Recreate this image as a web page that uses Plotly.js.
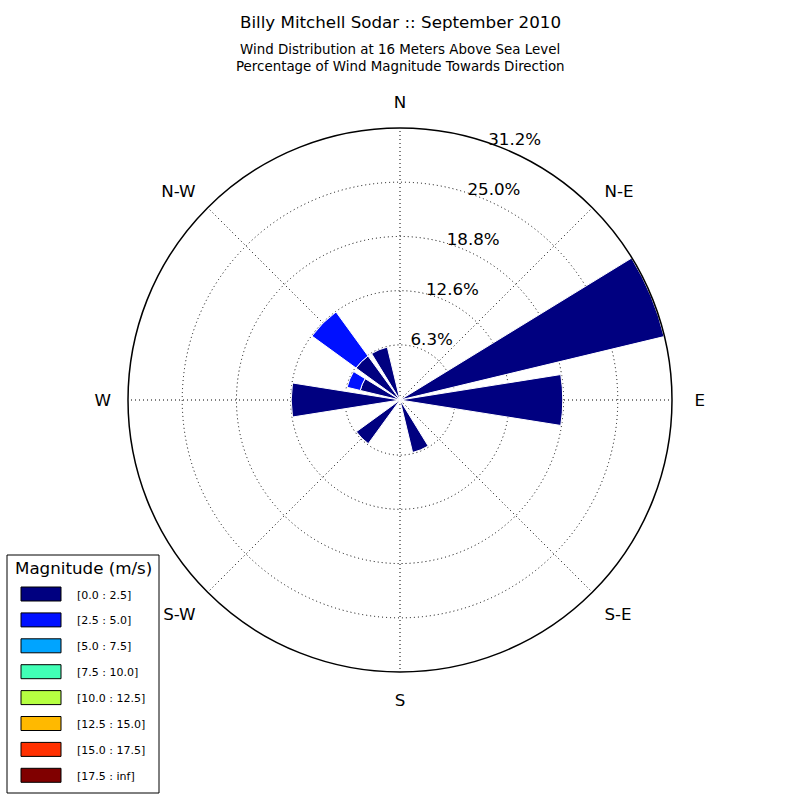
<!DOCTYPE html>
<html>
<head>
<meta charset="utf-8">
<script src="https://cdn.plot.ly/plotly-3.0.1.min.js"></script>
<style>html,body{margin:0;padding:0;background:#fff;}</style>
</head>
<body>
<div id="chart" style="width:800px;height:800px;"></div>
<script>
// 16 compass directions (degrees, "towards")
const directions = [0, 22.5, 45, 67.5, 90, 112.5, 135, 157.5, 180, 202.5, 225, 247.5, 270, 292.5, 315, 337.5];
// Speed bins
const binLabels = ["[0.0 : 2.5]", "[2.5 : 5.0]", "[5.0 : 7.5]", "[7.5 : 10.0]", "[10.0 : 12.5]", "[12.5 : 15.0]", "[15.0 : 17.5]", "[17.5 : inf]"];
const binColors = ["#000080", "#0010ff", "#00a4ff", "#41ffb6", "#b6ff41", "#ffb900", "#ff3000", "#800000"];
// Percentages per bin, per direction
const bin0 = [0, 0, 0, 31.2, 18.7, 0, 0, 6.2, 0, 0, 6.2, 0, 12.5, 4.7, 6.25, 6.25];
const bin1 = [0, 0, 0, 0, 0, 0, 0, 0, 0, 0, 0, 0, 0, 1.55, 6.25, 0];
const bin2 = [0, 0, 0, 0, 0, 0, 0, 0, 0, 0, 0, 0, 0, 0, 0, 0];
const bin3 = [0, 0, 0, 0, 0, 0, 0, 0, 0, 0, 0, 0, 0, 0, 0, 0];
const bin4 = [0, 0, 0, 0, 0, 0, 0, 0, 0, 0, 0, 0, 0, 0, 0, 0];
const bin5 = [0, 0, 0, 0, 0, 0, 0, 0, 0, 0, 0, 0, 0, 0, 0, 0];
const bin6 = [0, 0, 0, 0, 0, 0, 0, 0, 0, 0, 0, 0, 0, 0, 0, 0];
const bin7 = [0, 0, 0, 0, 0, 0, 0, 0, 0, 0, 0, 0, 0, 0, 0, 0];
const binValues = [bin0, bin1, bin2, bin3, bin4, bin5, bin6, bin7];
// Axis ticks
const radialTicks = [6.33, 12.56, 18.79, 25.02, 31.25];
const radialTickText = ["6.3%", "12.6%", "18.8%", "25.0%", "31.2%"];
const radialLabelAngle = 22.5;
const angleTicks = [0, 45, 90, 135, 180, 225, 270, 315];
const angleTickText = ["N", "N-E", "\u00a0E", "S-E", "S", "S-W", "W", "N-W"];
const rMax = 31.25;

const FONT = "DejaVu Sans, sans-serif";

const traces = binValues.map((vals, i) => ({
  type: "barpolar",
  r: vals,
  theta: directions,
  width: 18,
  name: binLabels[i],
  marker: {color: binColors[i], line: {color: "#ffffff", width: 1}},
  showlegend: false,
  hoverinfo: "skip"
}));
// radial tick labels, placed on the radial scale at each grid circle
traces.push({
  type: "scatterpolar",
  mode: "text",
  r: radialTicks,
  theta: radialTicks.map(() => radialLabelAngle),
  text: radialTickText.map(t => "\u00a0\u00a0\u00a0\u00a0" + t),
  textposition: "top center",
  textfont: {family: FONT, size: 16.7, color: "#000"},
  cliponaxis: false,
  showlegend: false,
  hoverinfo: "skip"
});

const W = 800, H = 800;
const px = x => x / W;
const py = y => 1 - y / H;

const shapes = [{
  type: "rect", xref: "paper", yref: "paper",
  x0: px(7), x1: px(159), y0: py(793), y1: py(555),
  line: {color: "#000", width: 1}, fillcolor: "#fff", layer: "above"
}];
const annotations = [
  {text: "Billy Mitchell Sodar :: September 2010", xref: "paper", yref: "paper", x: 0.5, y: py(22), xanchor: "center", yanchor: "middle", showarrow: false, font: {family: FONT, size: 16.7, color: "#000"}},
  {text: "Wind Distribution at 16 Meters Above Sea Level", xref: "paper", yref: "paper", x: 0.5, y: py(49), xanchor: "center", yanchor: "middle", showarrow: false, font: {family: FONT, size: 13.4, color: "#000"}},
  {text: "Percentage of Wind Magnitude Towards Direction", xref: "paper", yref: "paper", x: 0.5, y: py(66), xanchor: "center", yanchor: "middle", showarrow: false, font: {family: FONT, size: 13.4, color: "#000"}},
  {text: "Magnitude (m/s)", xref: "paper", yref: "paper", x: px(83), y: py(568), xanchor: "center", yanchor: "middle", showarrow: false, font: {family: FONT, size: 16.7, color: "#000"}}
];
binLabels.forEach((lab, i) => {
  const top = 587 + 25.9 * i;
  shapes.push({
    type: "rect", xref: "paper", yref: "paper",
    x0: px(21), x1: px(61), y0: py(top + 14), y1: py(top),
    line: {color: "#000", width: 1}, fillcolor: binColors[i], layer: "above"
  });
  annotations.push({
    text: lab, xref: "paper", yref: "paper", x: px(75), y: py(top + 8),
    xanchor: "left", yanchor: "middle", showarrow: false,
    font: {family: FONT, size: 11, color: "#000"}
  });
});

const layout = {
  width: W, height: H,
  margin: {l: 0, r: 0, t: 0, b: 0},
  paper_bgcolor: "#fff",
  font: {family: FONT, color: "#000"},
  showlegend: false,
  polar: {
    domain: {x: [0.16, 0.84], y: [0.16, 0.84]},
    bgcolor: "#fff",
    barmode: "stack",
    radialaxis: {
      range: [0, rMax],
      tickvals: radialTicks,
      showticklabels: false,
      angle: 67.5,
      showline: false,
      ticks: "",
      gridcolor: "#000",
      griddash: "1px,3px",
      gridwidth: 1
    },
    angularaxis: {
      direction: "clockwise",
      rotation: 90,
      tickmode: "array",
      tickvals: angleTicks,
      ticktext: angleTickText,
      tickfont: {family: FONT, size: 16.7, color: "#000"},
      ticks: "outside",
      ticklen: 13,
      tickcolor: "rgba(0,0,0,0)",
      showline: true,
      linecolor: "#000",
      linewidth: 1.5,
      gridcolor: "#000",
      griddash: "1px,3px",
      gridwidth: 1
    }
  },
  shapes: shapes,
  annotations: annotations
};

Plotly.newPlot("chart", traces, layout, {staticPlot: true, displayModeBar: false});
</script>
</body>
</html>
